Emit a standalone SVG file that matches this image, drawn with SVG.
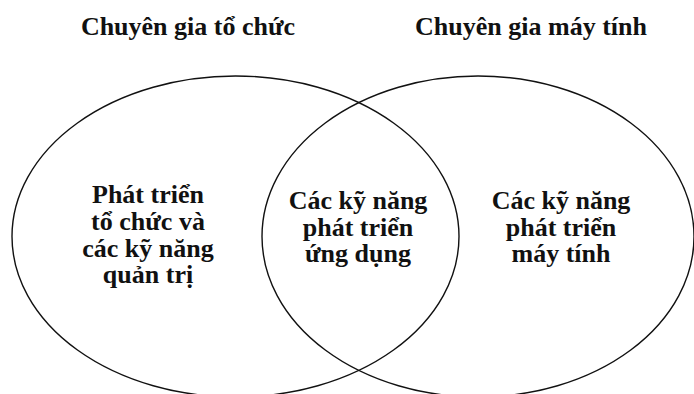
<svg xmlns="http://www.w3.org/2000/svg" width="694" height="394" viewBox="0 0 694 394">
  <style>
    .set { fill: none; stroke: #111; stroke-width: 1.4; }
    .title, .label { font-family: "Liberation Serif", "Times New Roman", serif; font-weight: bold; fill: #111; text-anchor: middle; }
    .title { font-size: 26px; }
    .label { font-size: 26px; }
  </style>
  <rect width="694" height="394" fill="#ffffff"/>

  <!-- Set titles -->
  <g id="title-org">
    <text class="title" x="188" y="35">Chuyên gia tổ chức</text>
  </g>
  <g id="title-computer">
    <text class="title" x="531" y="35">Chuyên gia máy tính</text>
  </g>

  <!-- Two overlapping sets -->
  <g id="set-org">
    <ellipse class="set" cx="235.5" cy="236.5" rx="223.5" ry="160.5"/>
    <text class="label" x="148" y="203">Phát triển</text>
    <text class="label" x="148" y="230">tổ chức và</text>
    <text class="label" x="148" y="257">các kỹ năng</text>
    <text class="label" x="148" y="283">quản trị</text>
  </g>
  <g id="set-computer">
    <ellipse class="set" cx="478" cy="236.5" rx="216" ry="160.5"/>
    <text class="label" x="561" y="209">Các kỹ năng</text>
    <text class="label" x="561" y="236">phát triển</text>
    <text class="label" x="561" y="262">máy tính</text>
  </g>
  <g id="overlap">
    <text class="label" x="358" y="209">Các kỹ năng</text>
    <text class="label" x="358" y="236">phát triển</text>
    <text class="label" x="358" y="262">ứng dụng</text>
  </g>
</svg>
